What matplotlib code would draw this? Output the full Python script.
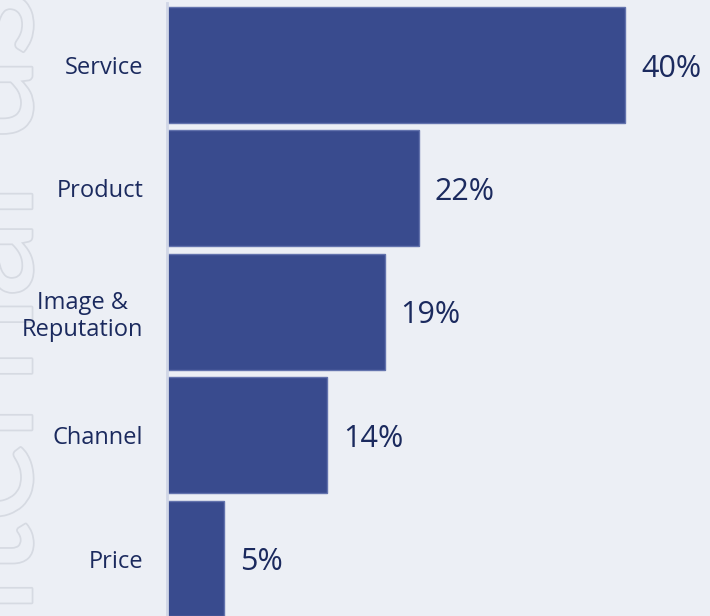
import matplotlib
matplotlib.use("Agg")
import matplotlib.pyplot as plt
import matplotlib.patheffects as pe

# ── data ──────────────────────────────────────────────────────────────────────
categories = ["Service", "Product", "Image &\nReputation", "Channel", "Price"]
shares = [40, 22, 19, 14, 5]

# ── style ─────────────────────────────────────────────────────────────────────
BG = "#eceff5"
BAR = "#394b8e"
BAR_EDGE = "#6373ad"
TXT = "#1b2a5e"
FONT = "Open Sans"

W, H = 710, 616
fig = plt.figure(figsize=(W / 100, H / 100), dpi=100, facecolor=BG)

# faint outlined watermark on the left edge, behind everything
fig.text(-0.017, 0.5, "Internal use", rotation=90, ha="center", va="center",
         fontsize=112, fontfamily="Lato", color=BG, zorder=-5,
         path_effects=[pe.Stroke(linewidth=2.5, foreground="#d6dae2"), pe.Normal()])

ax = fig.add_axes([167 / W, 0, (W - 167) / W, 613 / H])
ax.set_facecolor("none")

y = list(range(len(categories)))
ax.barh(y, shares, height=0.94, color=BAR, edgecolor=BAR_EDGE, linewidth=1)

ax.set_xlim(0, (W - 167) / 11.45)
ax.set_ylim(4.466, -0.502)

ax.set_yticks(y)
ax.set_yticklabels(categories, fontsize=17, fontfamily=FONT, color=TXT,
                   linespacing=1.2, multialignment="center")
ax.tick_params(axis="y", length=0, pad=17)
ax.set_xticks([])

for s in ["top", "right", "bottom"]:
    ax.spines[s].set_visible(False)
ax.spines["left"].set_color("#d0d6e6")
ax.spines["left"].set_linewidth(2)

for yi, v in zip(y, shares):
    ax.text(v + 1.4, yi + 0.03, f"{v}%", ha="left", va="center",
            fontsize=22, fontfamily=FONT, color=TXT)

fig.savefig("out.png", dpi=100, facecolor=BG)
